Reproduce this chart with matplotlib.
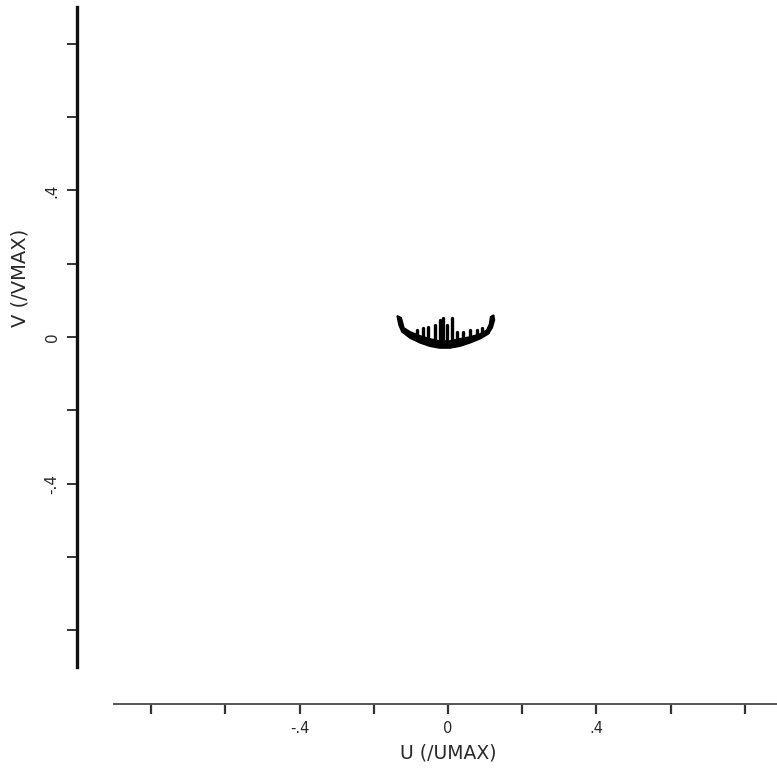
import numpy as np
import matplotlib
matplotlib.use("Agg")
import matplotlib.pyplot as plt

# crescent of uv points (normalised)
outer_u = [-0.137, -0.132, -0.124, -0.102, -0.075, -0.049, -0.022, 0.005,
           0.032, 0.059, 0.086, 0.108, 0.119, 0.125, 0.123]
outer_v = [0.058, 0.033, 0.014, -0.003, -0.016, -0.025, -0.030, -0.030,
           -0.025, -0.016, -0.005, 0.008, 0.025, 0.046, 0.060]
inner_u = [0.115, 0.112, 0.105, 0.086, 0.059, 0.032, 0.005, -0.022,
           -0.049, -0.075, -0.102, -0.119, -0.126]
inner_v = [0.055, 0.035, 0.019, 0.008, 0.000, -0.005, -0.011, -0.011,
           -0.005, 0.003, 0.014, 0.025, 0.052]

# short spikes sticking up from the band
tooth_u = [-0.084, -0.067, -0.054, -0.035, -0.022, -0.013, -0.003, 0.011,
           0.024, 0.040, 0.059, 0.078, 0.092, 0.108]
tooth_base = [0.005, 0.000, -0.003, -0.006, -0.008, -0.010, -0.010, -0.010,
              -0.008, -0.004, 0.000, 0.005, 0.010, 0.015]
tooth_top = [0.019, 0.025, 0.027, 0.033, 0.046, 0.052, 0.033, 0.052,
             0.014, 0.014, 0.019, 0.019, 0.025, 0.025]

major_ticks = [-0.8, -0.6, -0.4, -0.2, 0.0, 0.2, 0.4, 0.6, 0.8]
tick_text = {-0.4: '-.4', 0.0: '0', 0.4: '.4'}

txt_col = '#2a2a2a'

fig = plt.figure(figsize=(7.77, 7.75), dpi=100)
ax = fig.add_axes([0, 0, 1, 1])
ax.set_xlim(-1.2075, 0.8868)
ax.set_ylim(-1.195, 0.9195)
ax.patch.set_alpha(0)

# band of the crescent
poly_u = outer_u + inner_u
poly_v = outer_v + inner_v
ax.fill(poly_u, poly_v, color='black', lw=1.2, ec='black')
for u, b, t in zip(tooth_u, tooth_base, tooth_top):
    ax.plot([u, u], [b, t], color='black', lw=2.4, solid_capstyle='round')

# axes: detached spines at -1
for s in ['top', 'right']:
    ax.spines[s].set_visible(False)
ax.spines['left'].set_position(('data', -1.0))
ax.spines['bottom'].set_position(('data', -1.0))
ax.spines['left'].set_bounds(-0.9, 0.9)
ax.spines['bottom'].set_bounds(-0.9, 0.9)
ax.spines['left'].set_linewidth(2.4)
ax.spines['left'].set_color('#111111')
ax.spines['bottom'].set_linewidth(1.4)
ax.spines['bottom'].set_color('#555555')

ax.set_xticks(major_ticks)
ax.set_yticks(major_ticks)
ax.set_xticklabels([tick_text.get(round(t, 1), '') for t in major_ticks])
ax.set_yticklabels([tick_text.get(round(t, 1), '') for t in major_ticks],
                   rotation=90, va='center')
ax.tick_params(axis='x', direction='out', length=7.5, width=1.6,
               color='#333333', pad=5, labelsize=10.5, labelcolor=txt_col)
ax.tick_params(axis='y', direction='out', length=7.5, width=1.4,
               color='#333333', pad=5, labelsize=11, labelcolor=txt_col)

ax.set_xlabel('U (/UMAX)', fontsize=13.5, color=txt_col)
ax.set_ylabel('V (/VMAX)', fontsize=14, color=txt_col)
ax.xaxis.set_label_coords(448 / 777, 1 - 753 / 775)
ax.yaxis.set_label_coords(20 / 777, 1 - 278 / 775)
ax.xaxis.label.set_va('center')
ax.yaxis.label.set_va('center')

fig.savefig('out.png', dpi=100, facecolor='white')
